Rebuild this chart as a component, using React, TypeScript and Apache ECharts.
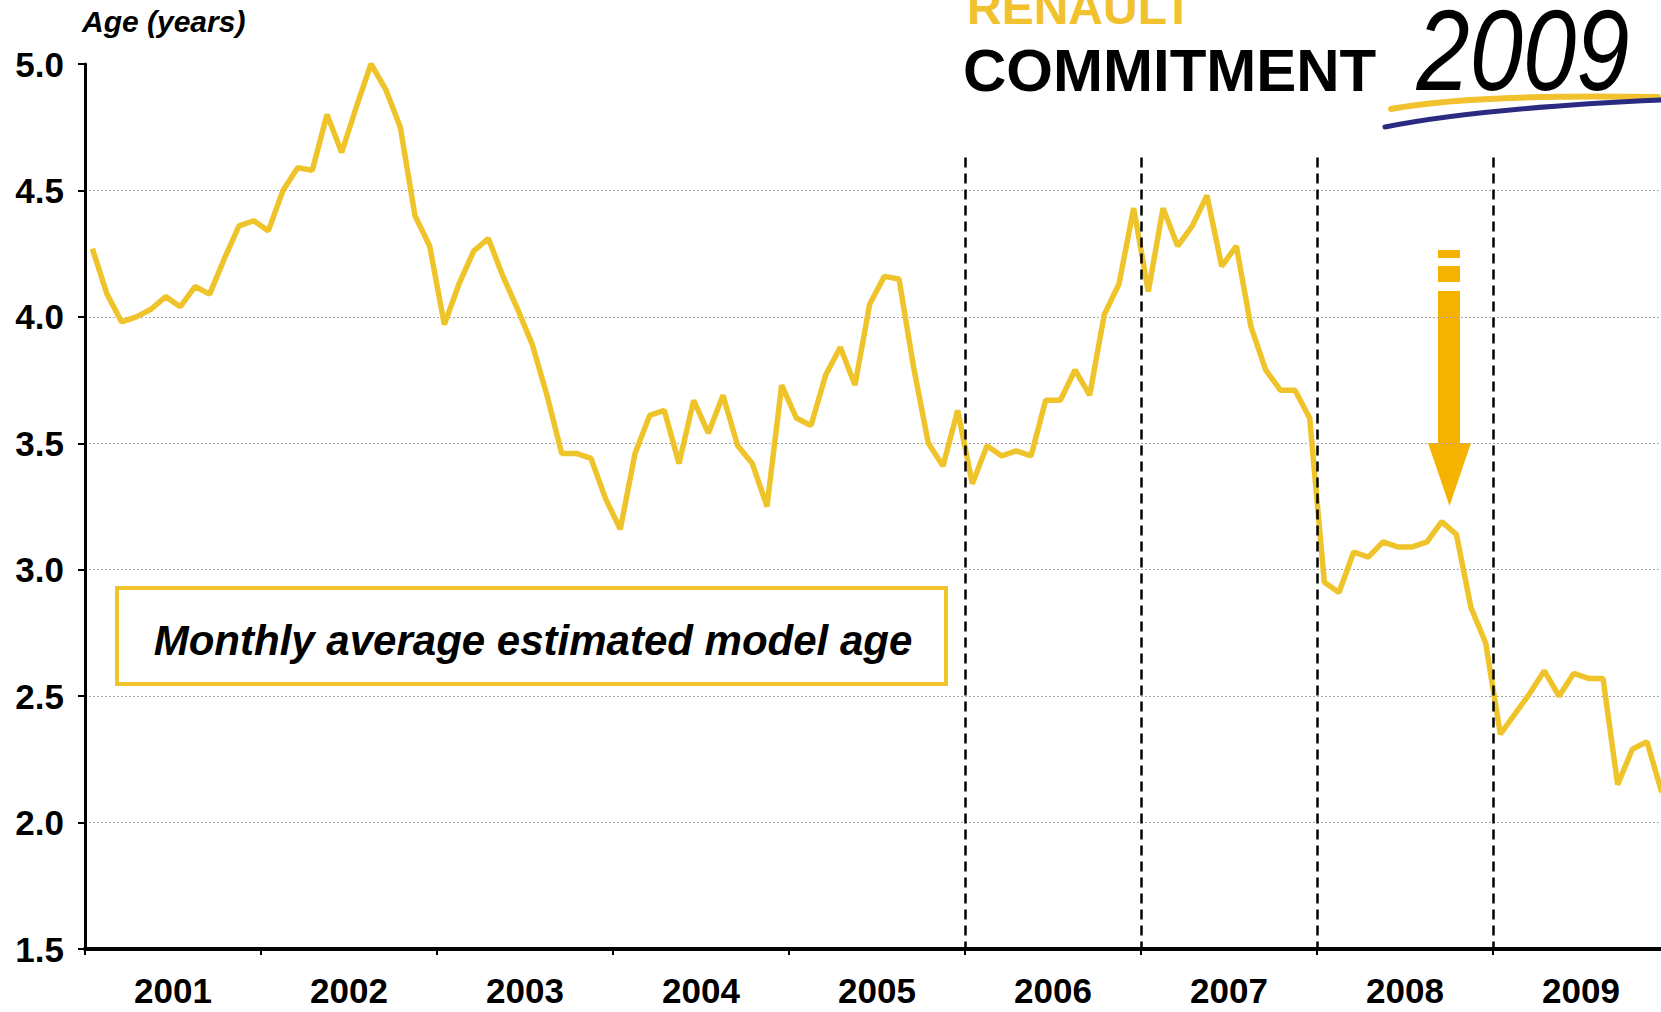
import React, { useEffect, useRef } from "react";
import * as echarts from "echarts";

const years = ["2001", "2002", "2003", "2004", "2005", "2006", "2007", "2008", "2009"];

const age2001 = [4.27, 4.09, 3.98, 4.0, 4.03, 4.08, 4.04, 4.12, 4.09, 4.23, 4.36, 4.38];
const age2002 = [4.34, 4.5, 4.59, 4.58, 4.8, 4.65, 4.83, 5.0, 4.9, 4.75, 4.4, 4.28];
const age2003 = [3.97, 4.13, 4.26, 4.31, 4.16, 4.03, 3.89, 3.69, 3.46, 3.46, 3.44, 3.28];
const age2004 = [3.16, 3.46, 3.61, 3.63, 3.42, 3.67, 3.54, 3.69, 3.49, 3.42, 3.25, 3.73];
const age2005 = [3.6, 3.57, 3.77, 3.88, 3.73, 4.05, 4.16, 4.15, 3.8, 3.5, 3.41, 3.63];
const age2006 = [3.34, 3.49, 3.45, 3.47, 3.45, 3.67, 3.67, 3.79, 3.69, 4.01, 4.13, 4.43];
const age2007 = [4.1, 4.43, 4.28, 4.36, 4.48, 4.2, 4.28, 3.96, 3.79, 3.71, 3.71, 3.6];
const age2008 = [2.95, 2.91, 3.07, 3.05, 3.11, 3.09, 3.09, 3.11, 3.19, 3.14, 2.85, 2.71];
const age2009 = [2.35, 2.43, 2.51, 2.6, 2.5, 2.59, 2.57, 2.57, 2.15, 2.29, 2.32, 2.12];

const monthlyAge = [
  ...age2001, ...age2002, ...age2003, ...age2004, ...age2005,
  ...age2006, ...age2007, ...age2008, ...age2009,
];

const yMin = 1.5;
const yMax = 5.0;
const yStep = 0.5;

// month index where a year starts (2006..2009) for dashed separators
const separatorMonths = [60, 72, 84, 96];
const separatorTop = 4.63;

const FONT = "'Liberation Sans', Arial, Helvetica, sans-serif";
const LINE_YELLOW = "#EFC42B";
const ARROW_ORANGE = "#F5B300";

function txt(text: string, x: number, y: number, opts: any) {
  return {
    type: "text",
    x,
    y,
    scaleX: opts.scaleX ?? 1,
    scaleY: opts.scaleY ?? 1,
    silent: true,
    style: {
      text,
      fill: opts.fill ?? "#000",
      fontFamily: FONT,
      fontSize: opts.fontSize,
      fontWeight: opts.fontWeight ?? "normal",
      fontStyle: opts.fontStyle ?? "normal",
      align: opts.align ?? "left",
      textAlign: opts.align ?? "left",
      verticalAlign: "middle",
      textVerticalAlign: "middle",
    },
  };
}

export default function App() {
  const ref = useRef<HTMLDivElement>(null);

  useEffect(() => {
    if (!ref.current) return;
    const chart = echarts.init(ref.current, null, { renderer: "svg" });
    const data = monthlyAge.map((v, i) => [i + 0.5, v]);

    chart.setOption({
      animation: false,
      backgroundColor: "#ffffff",
      grid: {
        left: 85,
        top: 64,
        width: 1584,
        height: 885,
        containLabel: false,
        outerBoundsMode: "none",
      },
      xAxis: [
        { type: "value", min: 0, max: years.length * 12, show: false },
        {
          type: "category",
          data: years,
          position: "bottom",
          boundaryGap: true,
          axisLine: { onZero: false, lineStyle: { color: "#000", width: 4 } },
          axisTick: { show: true, length: 6, lineStyle: { color: "#000", width: 2 } },
          axisLabel: {
            fontFamily: FONT,
            fontWeight: "bold",
            fontSize: 35,
            color: "#000",
            margin: 24,
          },
          splitLine: { show: false },
        },
      ],
      yAxis: {
        type: "value",
        min: yMin,
        max: yMax,
        interval: yStep,
        axisLine: { show: true, onZero: false, lineStyle: { color: "#000", width: 3 } },
        axisTick: { show: true, length: 7, lineStyle: { color: "#000", width: 2 } },
        axisLabel: {
          fontFamily: FONT,
          fontWeight: "bold",
          fontSize: 35,
          color: "#000",
          margin: 21,
          formatter: (v: number) => v.toFixed(1),
        },
        splitLine: {
          show: true,
          showMaxLine: false,
          lineStyle: { color: "#a8a8a8", width: 1, type: [2, 2] },
        },
      },
      series: [
        {
          type: "line",
          xAxisIndex: 0,
          data,
          symbol: "none",
          showSymbol: false,
          silent: true,
          lineStyle: { color: LINE_YELLOW, width: 5.5 },
          markLine: {
            silent: true,
            symbol: ["none", "none"],
            label: { show: false },
            emphasis: { disabled: true },
            lineStyle: { color: "#000", width: 2.5, type: [10, 6] },
            data: separatorMonths.map((m) => [
              { coord: [m, separatorTop] },
              { coord: [m, yMin] },
            ]),
          },
        },
      ],
      graphic: [
        txt("Age (years)", 82, 21, { fontSize: 30, fontWeight: "bold", fontStyle: "italic" }),
        {
          type: "rect",
          silent: true,
          shape: { x: 117, y: 588, width: 829, height: 96 },
          style: { fill: "#ffffff", stroke: LINE_YELLOW, lineWidth: 4 },
        },
        txt("Monthly average estimated model age", 533, 640, {
          fontSize: 42,
          fontWeight: "bold",
          fontStyle: "italic",
          align: "center",
        }),
        // arrow
        { type: "rect", silent: true, shape: { x: 1438, y: 250, width: 22, height: 8 }, style: { fill: ARROW_ORANGE } },
        { type: "rect", silent: true, shape: { x: 1438, y: 266, width: 22, height: 16 }, style: { fill: ARROW_ORANGE } },
        { type: "rect", silent: true, shape: { x: 1438, y: 291, width: 22, height: 152 }, style: { fill: ARROW_ORANGE } },
        {
          type: "polygon",
          silent: true,
          shape: { points: [[1428, 443], [1471, 443], [1449.5, 506]] },
          style: { fill: ARROW_ORANGE },
        },
        // logo
        txt("RENAULT", 967, 7, { fontSize: 48, fontWeight: "bold", fill: "#F2C12E" }),
        txt("COMMITMENT", 963, 70, { fontSize: 60, fontWeight: "bold", fill: "#000" }),
        txt("2009", 1523, 50, { fontSize: 104, fontStyle: "italic", align: "center", scaleX: 0.92, scaleY: 1.1 }),
        {
          type: "bezierCurve",
          silent: true,
          shape: { x1: 1391, y1: 109, cpx1: 1470, cpy1: 94, x2: 1658, y2: 97 },
          style: { stroke: "#F2C12E", lineWidth: 6, lineCap: "round", fill: "none" },
        },
        {
          type: "bezierCurve",
          silent: true,
          shape: { x1: 1385, y1: 127, cpx1: 1480, cpy1: 108, x2: 1661, y2: 100 },
          style: { stroke: "#2A2A80", lineWidth: 5, lineCap: "round", fill: "none" },
        },
      ],
    });

    return () => chart.dispose();
  }, []);

  return (
    <div
      ref={ref}
      style={{ position: "fixed", left: 0, top: 0, width: 1661, height: 1012, background: "#fff" }}
    />
  );
}
